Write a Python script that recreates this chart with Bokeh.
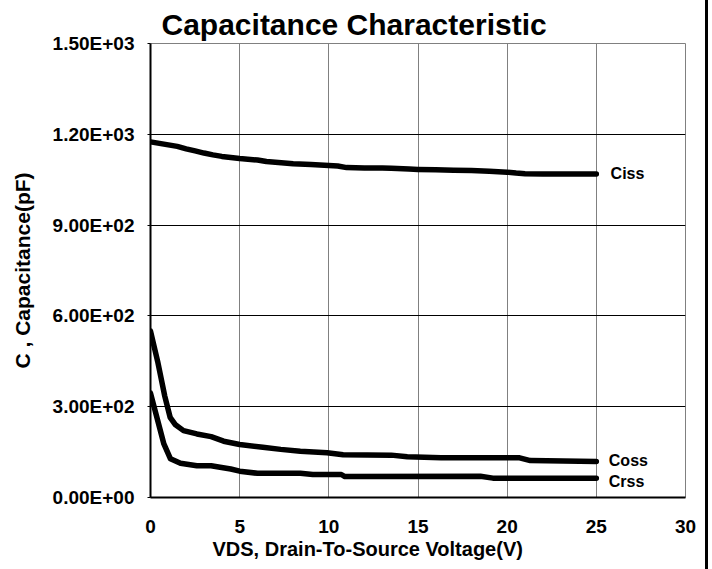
from bokeh.plotting import figure
from bokeh.models import FixedTicker, Range1d, Title
from bokeh.core.properties import value
from bokeh.embed import file_html
from bokeh.resources import INLINE

# ---- data ----
vds_ciss = [0, 0.5, 1, 1.5, 2, 2.5, 3, 3.5, 4, 5, 6, 6.5, 7, 8, 9, 10, 10.5, 11, 12, 13, 13.5,
            14.5, 15, 16, 17, 18, 19, 20, 20.5, 21, 22, 23, 24, 25]
ciss = [1175, 1170, 1165, 1160, 1152, 1145, 1138, 1132, 1127, 1120, 1115, 1110, 1108, 1103, 1100,
        1097, 1095, 1090, 1089, 1089, 1088, 1085, 1084, 1083, 1081, 1080, 1078, 1075, 1072, 1070,
        1069, 1069, 1069, 1069]

vds_coss = [0, 0.4, 0.8, 1.1, 1.4, 1.85, 2.6, 3.4, 4.1, 5, 6.3, 7.3, 8.4, 9.9, 10.8, 13.5, 14.4,
            16.3, 20.7, 21.3, 25]
coss = [550, 450, 335, 265, 240, 221, 210, 201, 186, 175, 166, 159, 153, 148, 141, 140, 135,
        131, 131, 122, 119]

vds_crss = [0, 0.4, 0.75, 1.12, 1.68, 2.6, 3.4, 3.9, 4.5, 5, 6, 8.4, 9.1, 10.7, 10.9, 18.5, 19.2, 25]
crss = [345, 255, 177, 128, 113, 105, 105, 100, 94, 87, 80, 80, 76, 76, 69, 70, 64, 64]

series_names = ["Ciss", "Coss", "Crss"]
label_x = [25.8, 25.7, 25.7]
label_y = [1071, 123, 54]

x_ticks = [0, 5, 10, 15, 20, 25, 30]
y_ticks = [0, 300, 600, 900, 1200, 1500]
y_tick_labels = ["0.00E+00", "3.00E+02", "6.00E+02", "9.00E+02", "1.20E+03", "1.50E+03"]

FONT = "Liberation Sans"

p = figure(width=708, height=569, output_backend="svg", toolbar_location=None,
           x_range=Range1d(0, 30), y_range=Range1d(0, 1500),
           min_border_left=150, min_border_right=23, min_border_top=43, min_border_bottom=72)
p.styles = {"border-right": "3px solid black"}

p.title.text = "Capacitance Characteristic"
p.title.text_font = FONT
p.title.text_font_style = "bold"
p.title.text_font_size = "30px"
p.title.text_color = "black"
p.title.align = "left"
p.title.offset = 11
p.title.standoff = 5

p.background_fill_color = "white"
p.border_fill_color = "white"
p.outline_line_color = "#808080"
p.outline_line_width = 1

# grid
p.xgrid.ticker = FixedTicker(ticks=x_ticks)
p.ygrid.ticker = FixedTicker(ticks=y_ticks)
p.xgrid.grid_line_color = "#808080"
p.xgrid.grid_line_width = 1
p.ygrid.grid_line_color = "black"
p.ygrid.grid_line_width = 1

# axes
p.xaxis.ticker = FixedTicker(ticks=x_ticks)
p.yaxis.ticker = FixedTicker(ticks=y_ticks)
p.yaxis.major_label_overrides = {t: l for t, l in zip(y_ticks, y_tick_labels)}
for ax in (p.xaxis, p.yaxis):
    ax.axis_line_color = "black"
    ax.axis_line_width = 2
    ax.minor_tick_line_color = None
    ax.major_tick_in = 0
    ax.major_label_text_font = FONT
    ax.major_label_text_font_style = "bold"
    ax.major_label_text_color = "black"
    ax.major_label_text_font_size = "19px"
p.xaxis.major_tick_out = 0
p.xaxis.major_label_standoff = 22
p.yaxis.major_tick_out = 3
p.yaxis.major_tick_line_color = "black"
p.yaxis.major_label_standoff = 13

p.yaxis.axis_label = "C , Capacitance(pF)"
p.yaxis.axis_label_text_font = FONT
p.yaxis.axis_label_text_font_style = "bold"
p.yaxis.axis_label_text_font_size = "21px"
p.yaxis.axis_label_text_color = "black"
p.yaxis.axis_label_standoff = 16

# x axis title (as a Title below the axis, for horizontal placement)
p.add_layout(Title(text="VDS, Drain-To-Source Voltage(V)", text_font=FONT, text_font_style="bold",
                   text_font_size="20px", text_color="black", align="left", offset=62,
                   standoff=0), "below")

# curves
for xs, ys in ((vds_ciss, ciss), (vds_coss, coss), (vds_crss, crss)):
    p.line(xs, ys, line_color="black", line_width=5.5, line_join="round", line_cap="round")

p.text(x=label_x, y=label_y, text=series_names, text_font=value(FONT), text_font_style="bold",
       text_font_size="16px", text_color="black", text_baseline="middle", text_align="left")

open("out.html", "w").write(file_html(p, INLINE))
